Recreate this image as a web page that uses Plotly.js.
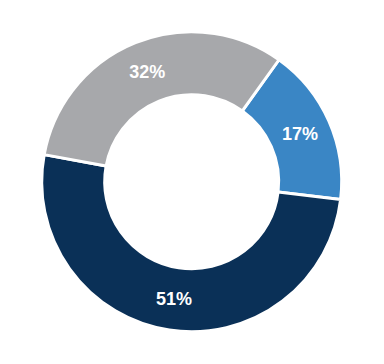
<!DOCTYPE html>
<html>
<head>
<meta charset="utf-8">
<script src="https://cdn.plot.ly/plotly-3.0.1.min.js"></script>
<style>html,body{margin:0;padding:0;background:#fff;}#chart{width:384px;height:364px;}</style>
</head>
<body>
<div id="chart"></div>
<script>
var labels = ["Segment A", "Segment B", "Segment C"];
var values = [17, 51, 32];
var textLabels = ["17%", "51%", "32%"];
var colors = ["#3A86C5", "#0A3057", "#A7A8AB"];

var trace = {
  type: "pie",
  labels: labels,
  values: values,
  text: textLabels,
  textinfo: "text",
  textposition: "inside",
  insidetextorientation: "horizontal",
  hole: 0.58,
  sort: false,
  direction: "clockwise",
  rotation: 35.6,
  marker: { colors: colors, line: { color: "#ffffff", width: 3 } },
  textfont: { family: "Liberation Sans, Arial, sans-serif", size: 18, color: "#ffffff", weight: "bold" },
  domain: { x: [0.1086, 0.8898], y: [0.0887, 0.9129] },
  showlegend: false,
  hoverinfo: "none"
};

var layout = {
  width: 384,
  height: 364,
  margin: { l: 0, r: 0, t: 0, b: 0 },
  paper_bgcolor: "#ffffff",
  showlegend: false
};

Plotly.newPlot("chart", [trace], layout, { staticPlot: true, displayModeBar: false });
</script>
</body>
</html>
